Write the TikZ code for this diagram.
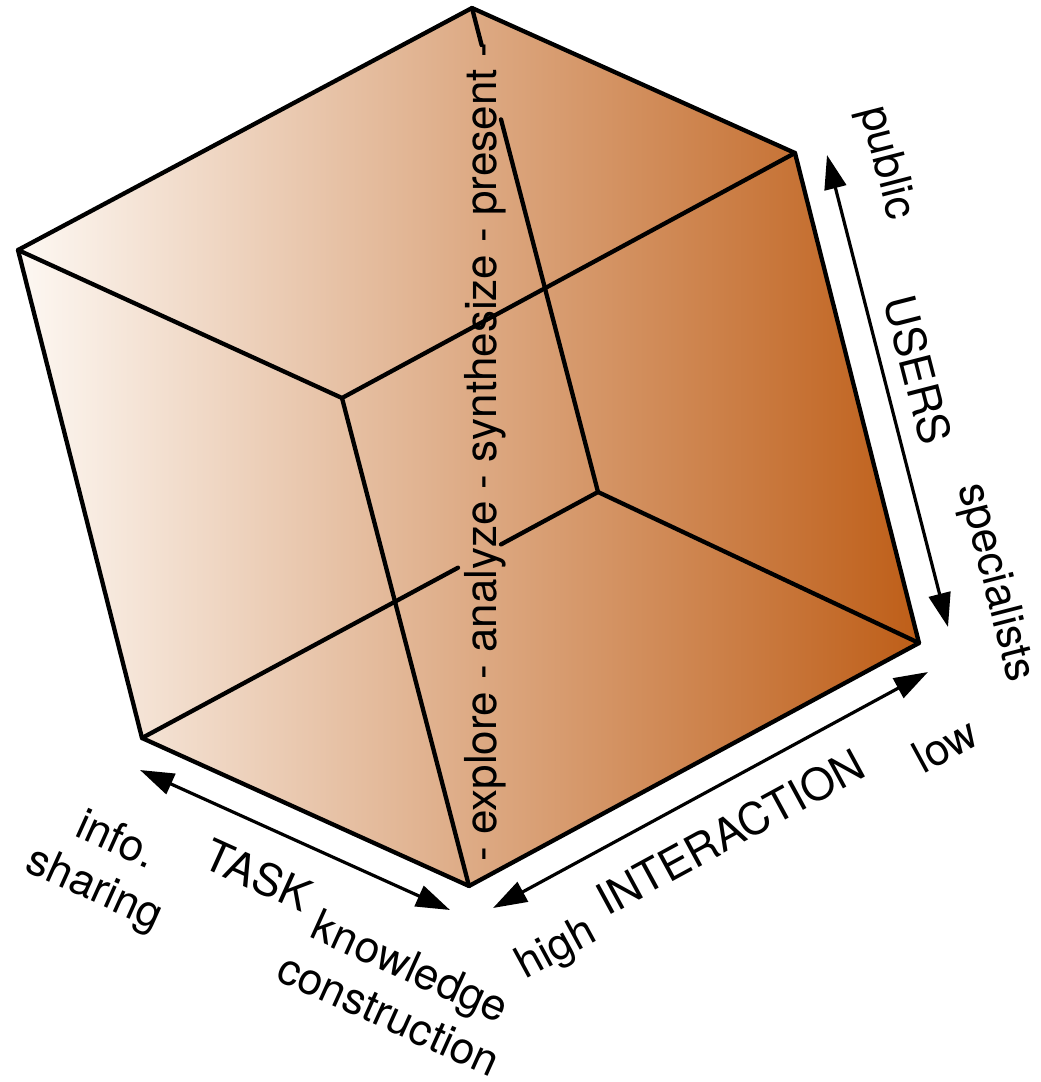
\documentclass[tikz,border=0pt]{standalone}
\usepackage{fontspec}
\setmainfont{TeX Gyre Heros}
\usetikzlibrary{arrows.meta}
\definecolor{cubeL}{RGB}{253,248,243}
\definecolor{cubeM}{RGB}{224,163,112}
\definecolor{cubeR}{RGB}{190,94,24}
\tikzset{
  edge/.style={line width=4.3pt, line cap=round, line join=round},
  axis/.style={line width=3.2pt, {Triangle[length=34pt,width=22pt]}-{Triangle[length=34pt,width=22pt]}},
  lbl/.style={inner sep=0pt, font=\fontsize{44}{53}\selectfont, align=center}
}
\begin{document}
\begin{tikzpicture}[x=1pt,y=-1pt]
\useasboundingbox (0,0) rectangle (1041,1082);
% vertices
\coordinate (T) at (472,8);
\coordinate (UR) at (795,153);
\coordinate (L) at (18,250);
\coordinate (I) at (342,398);
\coordinate (B) at (598,492);
\coordinate (RL) at (919,643);
\coordinate (BL) at (142,738);
\coordinate (Bot) at (469,886);
% fill
\shade[left color=cubeL, middle color=cubeM, right color=cubeR]
  (T) -- (UR) -- (RL) -- (Bot) -- (BL) -- (L) -- cycle;
% back edges (partly hidden behind the text)
\draw[edge] (T) -- (481.6,45);
\draw[edge] (501,119.4) -- (B);
\draw[edge] (B) -- (501,544.4);
\draw[edge] (458,567.7) -- (BL);
\draw[edge] (B) -- (RL);
% other edges
\draw[edge] (T) -- (UR) -- (RL) -- (Bot) -- (BL) -- (L) -- cycle;
\draw[edge] (L) -- (I) -- (UR);
\draw[edge] (I) -- (Bot);
% vertical text
\node[lbl, rotate=90, anchor=base] (tasks) at (496,452) {- explore - analyze - synthesize - present -};
% axes
\coordinate (ua) at (827,155);
\coordinate (ub) at (948,627);
\coordinate (ia) at (493,908);
\coordinate (ib) at (928,672);
\coordinate (ta) at (140,770);
\coordinate (tb) at (450,910);
\draw[axis] (ua) -- (ub);
\draw[axis] (ia) -- (ib);
\draw[axis] (ta) -- (tb);
% labels
\node[lbl, rotate=-75.6] (pub) at (886,163) {public};
\node[lbl, rotate=-75.6] (usr) at (918,370) {USERS};
\node[lbl, rotate=-75.6] (spc) at (995,583) {specialists};
\node[lbl, rotate=28.5] (hi) at (557,950) {high};
\node[lbl, rotate=28.5] (inter) at (730,832) {INTERACTION};
\node[lbl, rotate=28.5] (lo) at (945,745) {low};
\node[lbl, rotate=-24.3] (info) at (105,866) {info.\\sharing};
\node[lbl, rotate=-24.3] (task) at (258,875) {TASK};
\node[lbl, rotate=-24.3] (know) at (400,990) {knowledge\\construction};
\end{tikzpicture}
\end{document}
